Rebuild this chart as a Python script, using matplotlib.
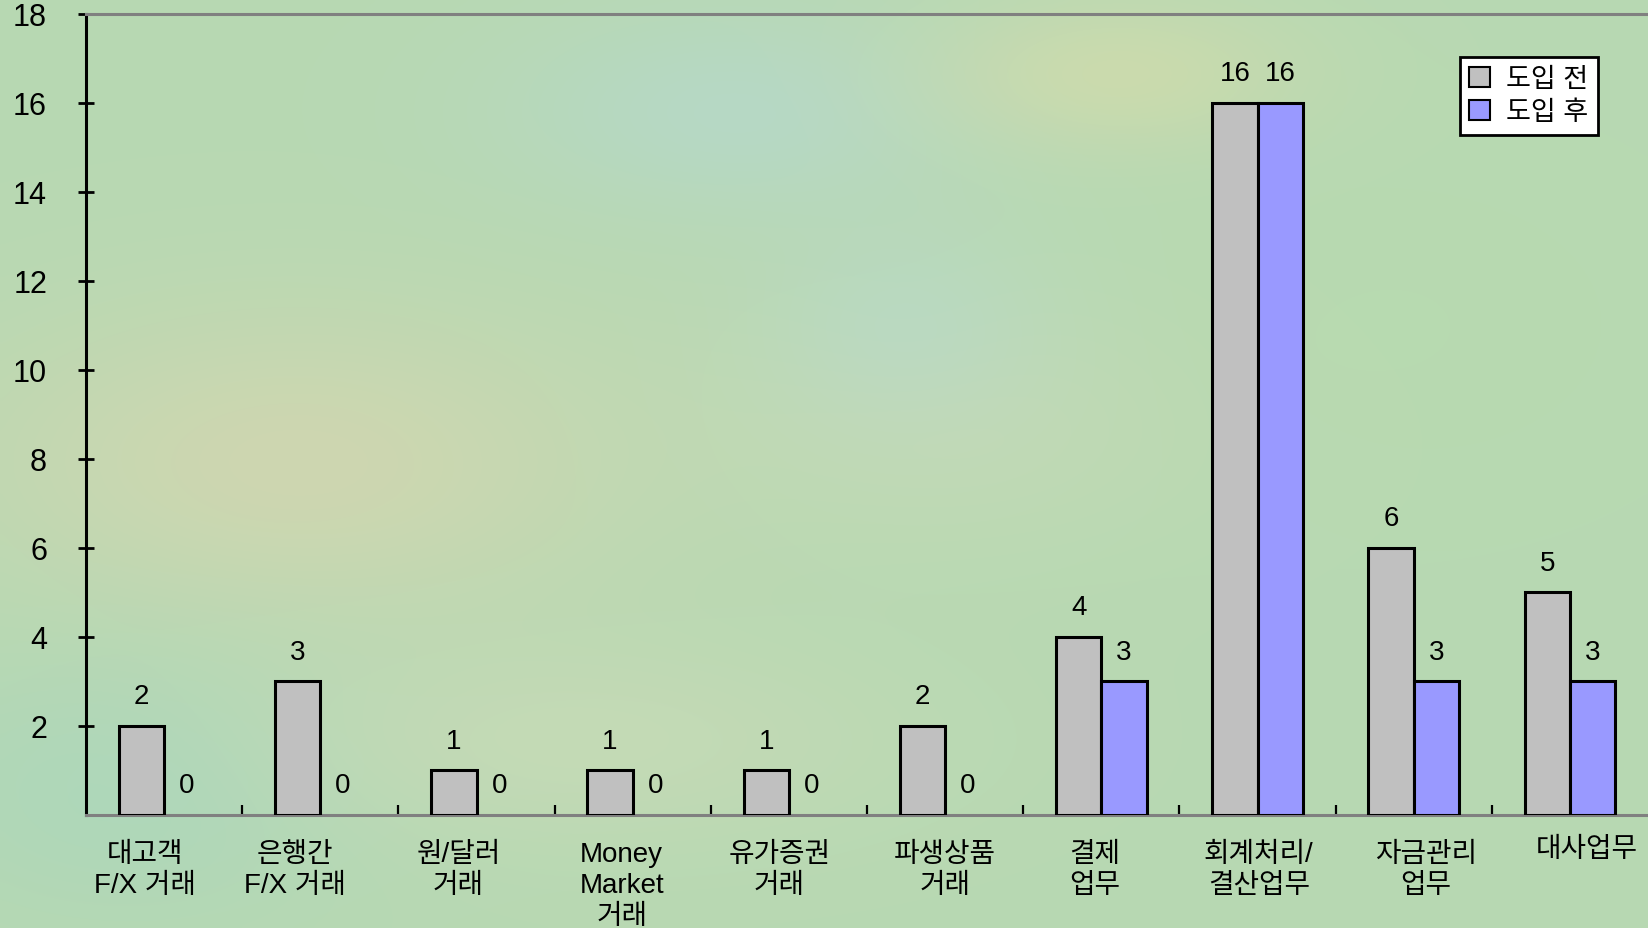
import numpy as np
import matplotlib
matplotlib.use("Agg")
import matplotlib.pyplot as plt
from matplotlib.patches import Patch

plt.rcParams['font.family'] = ['Liberation Sans', 'Noto Sans CJK KR', 'DejaVu Sans']

categories = ["대고객\nF/X 거래", "은행간\nF/X 거래", "원/달러\n거래", "Money\nMarket\n거래",
              "유가증권\n거래", "파생상품\n거래", "결제\n업무", "회계처리/\n결산업무",
              "자금관리\n업무", "대사업무"]
before = [2, 3, 1, 1, 1, 2, 4, 16, 6, 5]
after = [0, 0, 0, 0, 0, 0, 3, 16, 3, 3]
series_names = ["도입 전", "도입 후"]
yticks = [2, 4, 6, 8, 10, 12, 14, 16, 18]

# horizontal / vertical nudges of the category labels (points), layout only
label_dx = [-14, -18, -13, -8, -7, 0, -5, 1, 9, 12]
label_dy = [-19, -19, -19, -19, -19, -19, -19, -19, -19, -15]

W, H = 1648, 929
fig = plt.figure(figsize=(W / 100, H / 100), dpi=100)

# decorative smooth background (fixed colour blobs)
bg = fig.add_axes([0, 0, 1, 1], zorder=-10)
gx, gy = np.meshgrid(np.linspace(0, 1, 330), np.linspace(0, 1, 186))
base = np.array([0.72, 0.85, 0.70])
img = np.ones((186, 330, 3)) * base
blobs = [  # (cx, cy, sx, sy, color, weight)
    (0.18, 0.50, 0.14, 0.12, (0.83, 0.84, 0.69), 0.8),
    (0.45, 0.12, 0.10, 0.08, (0.71, 0.85, 0.82), 0.6),
    (0.68, 0.08, 0.08, 0.06, (0.83, 0.86, 0.67), 0.7),
    (0.58, 0.45, 0.12, 0.10, (0.80, 0.86, 0.72), 0.5),
    (0.08, 0.85, 0.10, 0.10, (0.66, 0.84, 0.74), 0.7),
    (0.85, 0.35, 0.12, 0.14, (0.72, 0.86, 0.68), 0.5),
    (0.35, 0.80, 0.14, 0.08, (0.80, 0.86, 0.72), 0.6),
    (0.55, 0.35, 0.06, 0.08, (0.71, 0.85, 0.83), 0.4),
]
for cx, cy, sx, sy, col, wgt in blobs:
    g = wgt * np.exp(-(((gx - cx) / sx) ** 2 + ((gy - cy) / sy) ** 2) / 2)
    img = img * (1 - g[..., None]) + np.array(col) * g[..., None]
bg.imshow(img, extent=(0, 1, 0, 1), aspect='auto', interpolation='bicubic', origin='upper')
bg.set_axis_off()

ax = fig.add_axes([86 / W, 1 - 815.7 / H, 1 - 86 / W, (815.7 - 14.7) / H])
ax.patch.set_alpha(0)

x = np.arange(len(categories))
w = 0.29
gray = '#C0C0C0'
blue = '#9999FF'
b1 = ax.bar(x - w / 2, before, w, color=gray, edgecolor='black', linewidth=2.2, zorder=3)
b2 = ax.bar(x + w / 2, after, w, color=blue, edgecolor='black', linewidth=2.2, zorder=3)

for rects, vals in ((b1, before), (b2, after)):
    for r, v in zip(rects, vals):
        if v == 0:
            r.set_visible(False)
        ax.annotate(f"{v}", (r.get_x() + r.get_width() / 2, v), xytext=(0, 12),
                    textcoords='offset points', ha='center', va='bottom', fontsize=20)

ax.set_xlim(-0.5, len(categories) - 0.5)
ax.set_ylim(0, 18)
ax.set_yticks(yticks)
ax.set_yticklabels([str(t) for t in yticks], fontsize=22)
ax.tick_params(axis='y', direction='inout', length=12, width=2, color='black', pad=22)

ax.set_xticks(x[:-1] + 0.5)
ax.set_xticklabels([])
ax.tick_params(axis='x', which='major', direction='in', length=7, width=1.6, color='black')

trans = ax.get_xaxis_transform()
for i, (lab, dx, dy) in enumerate(zip(categories, label_dx, label_dy)):
    ax.annotate(lab, (i, 0), xycoords=trans, xytext=(dx, dy),
                textcoords='offset points', ha='center', va='top',
                fontsize=20, linespacing=1.25, multialignment='center')

ax.spines['left'].set_color('black')
ax.spines['left'].set_linewidth(2.2)
for s in ('top', 'bottom'):
    ax.spines[s].set_color('#808080')
    ax.spines[s].set_linewidth(2.2)
ax.spines['right'].set_visible(False)

handles = [Patch(facecolor=gray, edgecolor='black', linewidth=1.5),
           Patch(facecolor=blue, edgecolor='black', linewidth=1.5)]
leg = ax.legend(handles, series_names, loc='upper left',
                bbox_to_anchor=((1460 - 86) / (W - 86), 1 - (58 - 14.7) / 801),
                fontsize=19.5, frameon=True, fancybox=False, framealpha=1,
                edgecolor='black', handlelength=0.75, handleheight=0.75,
                handletextpad=0.6, borderpad=0.35, labelspacing=0.25, borderaxespad=0)
leg.get_frame().set_linewidth(2)

fig.savefig("out.png", dpi=100)
